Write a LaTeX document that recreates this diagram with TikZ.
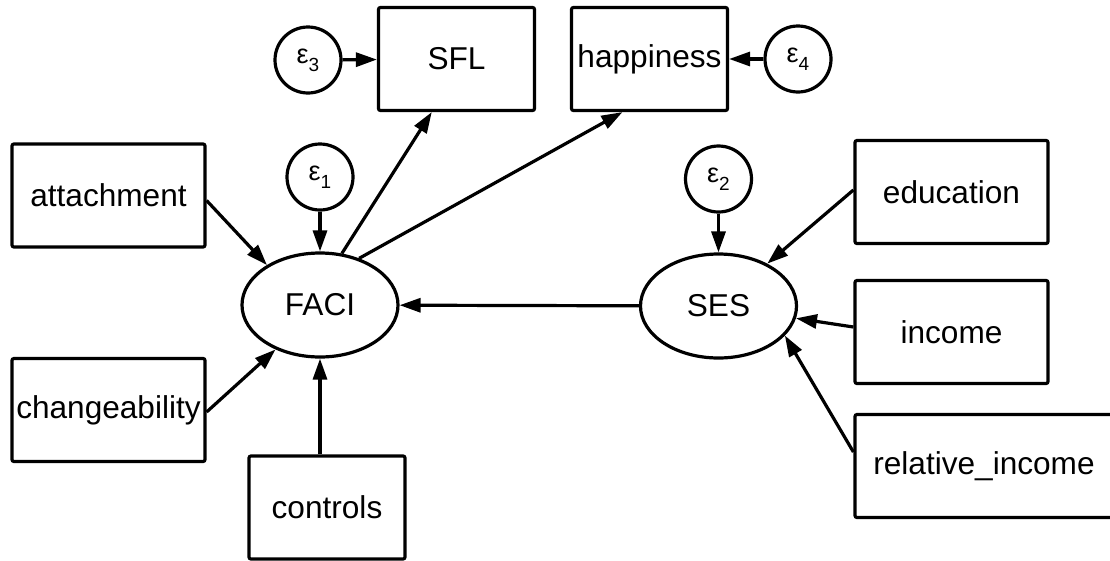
\documentclass[tikz,border=0pt]{standalone}
\usepackage{fontspec}
\setmainfont{Liberation Sans}
\usetikzlibrary{shapes.geometric,arrows.meta}
\newcommand\epsn[1]{{\fontsize{27}{27}\selectfont ε\raisebox{-8pt}{\fontsize{19}{19}\selectfont #1}}}
\begin{document}
\begin{tikzpicture}[x=1pt,y=-1pt,
  lw/.style={line width=3.2pt},
  txt/.style={font=\fontsize{31.6}{36}\selectfont},
  obs/.style={draw,lw,txt,rectangle,rounded corners=2pt,minimum height=103pt,inner sep=0pt},
  wide/.style={obs,minimum width=193pt},
  narrow/.style={obs,minimum width=156pt},
  lat/.style={draw,lw,txt,ellipse,minimum width=156pt,minimum height=104pt,inner sep=0pt},
  err/.style={draw,lw,circle,minimum size=66pt,inner sep=0pt},
  arr/.style={lw,-{Triangle[length=21pt,width=14pt]}}
]
\useasboundingbox (0,0) rectangle (1110,560);
\fill[white] (0,0) rectangle (1110,560);
\clip (0,0) rectangle (1110,560);

\node[narrow] (SFL) at (456.5,59) {SFL};
\node[narrow] (happiness) at (649.5,59) {happiness};
\node[err] (e3) at (308,60) {\epsn{3}};
\node[err] (e4) at (798,59) {\epsn{4}};
\node[err] (e1) at (320,177) {\epsn{1}};
\node[err] (e2) at (718.5,179) {\epsn{2}};
\node[wide] (attachment) at (108.5,195.5) {attachment};
\node[wide] (changeability) at (108.5,410) {changeability};
\node[narrow] (controls) at (327,507.5) {controls};
\node[lat] (FACI) at (320,305) {FACI};
\node[lat] (SES) at (718.5,306) {SES};
\node[wide] (education) at (951.5,192) {education};
\node[wide] (income) at (951.5,332) {income};
\node[obs,minimum width=258pt] (relinc) at (984,466) {relative\_income};

\draw[arr] (e3) -- (SFL);
\draw[arr] (e4) -- (happiness);
\draw[arr] (e1) -- (FACI);
\draw[arr] (e2) -- (SES);
\draw[arr] (FACI.67) -- (SFL.245);
\draw[arr] (FACI.50) -- (happiness.243);
\draw[arr] ([yshift=-5pt]attachment.east) -- (FACI.143);
\draw[arr] ([yshift=-2pt]changeability.east) -- (FACI.225);
\draw[arr] (controls.north -| FACI.south) -- (FACI.south);
\draw[arr] (SES) -- (FACI);
\draw[arr] ([yshift=2pt]education.west) -- (SES.41);
\draw[arr] ([yshift=5pt]income.west) -- (SES.351);
\draw[arr] ([yshift=14pt]relinc.west) -- (SES.336);
\end{tikzpicture}
\end{document}
